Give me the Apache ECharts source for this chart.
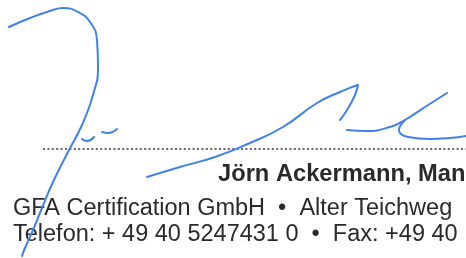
<!DOCTYPE html>
<html>
<head>
<meta charset="utf-8">
<script src="https://cdn.jsdelivr.net/npm/echarts@6/dist/echarts.min.js"></script>
<style>
  html, body { margin: 0; padding: 0; background: #fff; }
  #chart { width: 466px; height: 258px; }
</style>
</head>
<body>
<div id="chart"></div>
<script>
// signature strokes, in picture pixels (x right, y down)
var jStroke = [[9,27],[30,18],[50,11],[63,8],[78,12],[90,22],[97,40],[98,67],[93,95],[82,125],[68,152],[53,182],[42,208],[33,230],[25,248],[22,256]];
var dashA = [[82,139],[87,141],[94,137]];
var dashB = [[102,132],[108,133],[117,129]];
var longStroke = [[147,177],[180,167],[215,157],[250,143],[283,127],[317,103],[340,92],[352,87],[358,85],[355,95],[347,110],[340,120]];
var eStroke = [[347,130],[367,131],[390,127],[405,120],[425,107],[447,93]];
var eLoop = [[405,120],[399,130],[408,137],[430,139],[450,138],[466,136]];
var dotLine = [[43,149],[466,149]];
// text lines
var nameLine = 'Jörn Ackermann, Man';
var addressLine = 'GFA Certification GmbH  •  Alter Teichweg';
var phoneLine = 'Telefon: + 49 40 5247431 0  •  Fax: +49 40';

(function(){
    var myChart = echarts.init(document.getElementById('chart'));
    var ink = '#4281e6';
    function stroke(data, width) {
        return {
            type: 'line',
            data: data,
            smooth: 0.5,
            symbol: 'none',
            silent: true,
            z: 3,
            lineStyle: { color: ink, width: width, cap: 'round', join: 'round' }
        };
    }
    var option = {
        backgroundColor: '#fff',
        animation: false,
        grid: { left: 0, right: 0, top: 0, bottom: 0 },
        xAxis: { type: 'value', min: 0, max: 466, show: false },
        yAxis: { type: 'value', min: 0, max: 258, inverse: true, show: false },
        graphic: [
            {
                type: 'text', left: 218, top: 162,
                style: { text: nameLine, font: 'bold 23.7px "Liberation Sans", Arial', fill: '#2a2a2a' }
            },
            {
                type: 'text', left: 13, top: 197,
                style: { text: addressLine, font: '23.5px "Liberation Sans", Arial', fill: '#2a2a2a' }
            },
            {
                type: 'text', left: 13, top: 223,
                style: { text: phoneLine, font: '23.5px "Liberation Sans", Arial', fill: '#2a2a2a' }
            }
        ],
        series: [
            {
                type: 'line',
                data: dotLine,
                symbol: 'none',
                silent: true,
                z: 1,
                lineStyle: { color: '#666', width: 2, type: [2, 2.4] }
            },
            stroke(jStroke, 2),
            stroke(dashA, 2),
            stroke(dashB, 2),
            stroke(longStroke, 2),
            stroke(eStroke, 2),
            stroke(eLoop, 2)
        ]
    };
    myChart.setOption(option);
    window.addEventListener('resize', function() {
        myChart.resize();
    })
})();
</script>
</body>
</html>
